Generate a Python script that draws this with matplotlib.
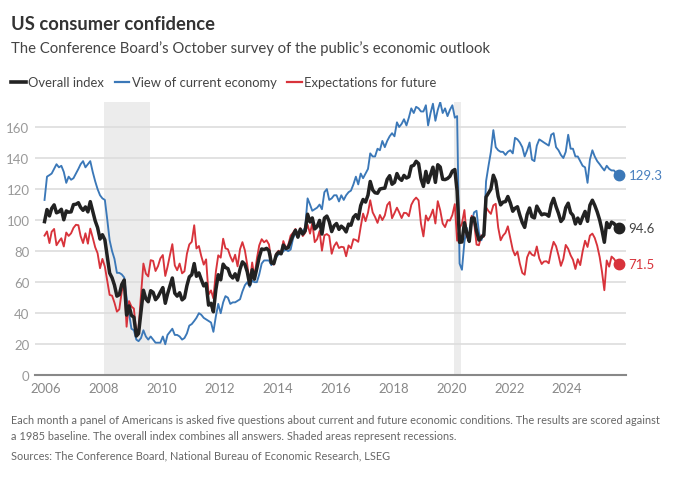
import pandas as pd
import matplotlib
matplotlib.use("Agg")
import matplotlib.pyplot as plt
import matplotlib.dates as mdates
from matplotlib.lines import Line2D

plt.rcParams['font.family'] = ['Lato', 'DejaVu Sans']

# Monthly readings, Dec 2005 - Oct 2025
months = pd.date_range("2005-12-01", "2025-10-01", freq="MS")

overall = [
    99.0,
    106.8, 102.7, 107.5, 109.8, 104.7, 105.4, 107.0, 100.2, 105.9, 105.1, 105.3, 110.0,
    110.2, 111.2, 108.2, 106.3, 108.5, 105.3, 111.9, 105.6, 99.5, 95.2, 87.8, 90.6,
    87.3, 76.4, 65.9, 62.8, 58.1, 51.0, 51.9, 58.5, 61.4, 38.8, 44.7, 38.6,
    37.4, 25.3, 26.9, 40.8, 54.8, 49.3, 47.4, 54.5, 53.4, 48.7, 50.6, 53.6,
    56.5, 46.4, 52.3, 57.7, 62.7, 52.9, 51.0, 53.2, 48.6, 49.9, 57.8, 63.4,
    64.8, 72.0, 63.8, 66.0, 61.7, 57.6, 59.2, 45.2, 46.4, 40.9, 55.2, 64.8,
    61.5, 71.6, 69.5, 68.7, 64.4, 62.7, 65.4, 61.3, 68.4, 73.1, 71.5, 66.7,
    58.4, 68.0, 61.9, 69.0, 76.2, 81.4, 81.0, 81.8, 80.2, 72.4, 72.0, 77.5,
    79.4, 78.3, 83.9, 81.7, 82.2, 86.4, 90.3, 93.4, 89.0, 94.1, 91.0, 93.1,
    103.8, 98.8, 101.4, 94.3, 95.8, 99.8, 91.0, 101.3, 102.6, 99.1, 92.6, 96.3,
    97.8, 94.0, 96.1, 94.7, 92.4, 97.4, 96.7, 101.8, 103.5, 100.8, 109.4, 113.3,
    111.6, 116.1, 124.9, 119.4, 117.6, 117.3, 120.0, 120.4, 120.6, 126.2, 128.6, 123.1,
    124.3, 130.0, 127.0, 125.6, 128.8, 127.1, 127.9, 134.7, 135.3, 137.9, 136.4, 126.6,
    121.7, 131.4, 124.2, 129.2, 134.1, 124.3, 135.7, 134.2, 126.3, 126.1, 126.8, 128.2,
    131.6, 132.6, 118.8, 85.7, 85.9, 98.3, 91.7, 86.3, 101.3, 101.4, 92.9, 87.1,
    88.9, 90.4, 114.9, 117.5, 120.0, 128.9, 125.1, 115.2, 109.8, 111.6, 111.9, 115.2,
    111.1, 105.7, 107.6, 108.6, 103.2, 98.4, 95.3, 103.6, 107.8, 102.2, 101.4, 109.0,
    106.0, 103.4, 104.0, 103.7, 102.5, 110.1, 114.0, 108.7, 104.3, 99.1, 101.0, 108.0,
    110.9, 104.8, 103.1, 97.5, 101.3, 97.8, 101.9, 105.6, 99.2, 109.6, 112.8, 109.5,
    105.3, 100.1, 93.9, 85.7, 98.4, 95.2, 98.7, 97.8, 95.6, 94.6,
]

current = [
    113,
    128, 129, 130, 133, 136, 134, 135, 131, 124, 128, 126, 127,
    130, 133, 136, 138, 134, 136, 138, 131, 125, 120, 116, 114,
    113, 100, 87, 80, 75, 66, 66, 65, 63, 50, 40, 30,
    29, 23, 22, 24, 29, 25, 23, 25, 23, 21, 21, 21,
    25, 20, 26, 28, 30, 26, 26, 25, 23, 24, 27, 32,
    33, 35, 37, 40, 39, 37, 36, 35, 34, 28, 38, 46,
    40, 47, 51, 50, 46, 47, 47, 48, 49, 54, 58, 60,
    57, 61, 60, 60, 65, 72, 74, 74, 74, 71, 73, 76,
    78, 78, 80, 81, 80, 81, 88, 92, 89, 93, 93, 95,
    114, 110, 106, 107, 108, 110, 107, 118, 120, 113, 114, 116,
    116, 112, 116, 113, 116, 118, 119, 123, 128, 123, 130, 127,
    130, 133, 143, 141, 141, 146, 145, 151, 147, 151, 154, 156,
    154, 163, 160, 162, 165, 161, 166, 172, 169, 173, 172, 170,
    170, 174, 161, 169, 175, 164, 171, 176, 169, 172, 167, 171,
    174, 166, 167, 72, 68, 86, 95, 86, 99, 105, 106, 92,
    87, 92, 125, 135, 144, 158, 147, 145, 144, 144, 142, 144,
    145, 143, 153, 152, 150, 147, 141, 145, 150, 139, 138, 148,
    152, 151, 150, 149, 148, 155, 156, 147, 145, 142, 140, 144,
    155, 146, 146, 141, 141, 138, 135, 134, 124, 139, 145, 141,
    138, 136, 134, 132, 135, 133, 132, 132, 130, 129.3,
]

expectations = [
    90.0,
    92.7, 85.2, 92.5, 94.3, 83.8, 86.3, 88.3, 83.0, 92.0, 89.8, 91.5, 95.0,
    97.0, 96.7, 89.7, 85.2, 91.5, 84.8, 94.5, 88.7, 82.5, 78.7, 69.0, 75.0,
    70.0, 60.7, 51.8, 51.3, 46.8, 41.0, 42.5, 54.0, 60.3, 31.3, 47.8, 44.3,
    43.0, 26.8, 30.2, 52.0, 72.0, 65.5, 63.7, 74.2, 73.7, 67.2, 70.3, 75.3,
    77.5, 64.0, 69.8, 77.5, 84.5, 70.8, 67.7, 72.0, 65.7, 67.0, 78.3, 84.3,
    86.0, 96.7, 81.7, 83.3, 76.8, 71.3, 74.7, 52.0, 54.7, 49.5, 66.7, 77.3,
    75.8, 88.0, 81.8, 81.2, 76.7, 73.2, 77.7, 70.2, 81.3, 85.8, 80.5, 71.2,
    59.3, 72.7, 63.2, 75.0, 83.7, 87.7, 85.7, 87.0, 84.3, 73.3, 71.3, 78.5,
    80.3, 78.5, 86.5, 82.2, 83.7, 90.0, 91.8, 94.3, 89.0, 94.8, 89.7, 91.8,
    97.0, 91.3, 98.3, 85.8, 87.7, 93.0, 80.3, 90.2, 91.0, 89.8, 78.3, 83.2,
    85.7, 82.0, 82.8, 82.5, 76.7, 83.7, 81.8, 87.7, 87.2, 86.0, 95.7, 104.2,
    99.3, 104.8, 112.8, 105.0, 102.0, 98.2, 103.3, 100.0, 103.0, 109.7, 111.7, 101.2,
    104.5, 108.0, 105.0, 101.3, 104.7, 104.5, 102.5, 109.8, 112.8, 114.5, 112.7, 97.7,
    89.5, 103.0, 99.7, 102.7, 106.8, 97.8, 112.2, 106.3, 97.8, 95.5, 100.0, 99.7,
    103.3, 110.3, 86.7, 94.8, 97.8, 106.5, 89.5, 86.5, 102.8, 99.0, 84.2, 83.8,
    90.2, 89.3, 108.2, 105.8, 104.0, 109.5, 110.5, 95.3, 87.0, 90.0, 91.8, 96.0,
    88.5, 80.8, 77.3, 79.7, 72.0, 66.0, 64.8, 76.0, 79.7, 77.7, 77.0, 83.0,
    75.3, 71.7, 73.3, 73.5, 72.2, 80.2, 86.0, 83.2, 77.2, 70.5, 75.0, 84.0,
    81.5, 77.3, 74.5, 68.5, 74.8, 71.0, 79.8, 86.7, 82.7, 90.0, 91.3, 88.5,
    83.5, 76.2, 67.2, 54.8, 74.0, 70.0, 76.5, 75.0, 72.7, 71.5,
]

recessions = [("2008-01-01", "2009-07-31"), ("2020-02-01", "2020-05-01")]
year_ticks = pd.date_range("2006-01-01", "2024-01-01", freq="2YS")

BLACK = "#222222"
BLUE = "#3b78b8"
RED = "#d8333b"
GRID = "#dddddd"
SHADE = "#ececec"

fig = plt.figure(figsize=(6.8, 4.81), dpi=100)
ax = fig.add_axes([0.0515, 0.2177, 0.8686, 0.5688])

# plot points in the middle of each month
x = months + pd.Timedelta(days=14)

for start, end in recessions:
    ax.axvspan(pd.Timestamp(start), pd.Timestamp(end), color=SHADE, lw=0, zorder=0)

ax.plot(x, current, color=BLUE, lw=1.35, zorder=3, solid_joinstyle="round")
ax.plot(x, expectations, color=RED, lw=1.35, zorder=3, solid_joinstyle="round")
ax.plot(x, overall, color=BLACK, lw=2.5, zorder=4, solid_joinstyle="round")

# end markers and labels
ends = [(current, BLUE, "#4a80bf"), (overall, BLACK, "#444444"), (expectations, RED, RED)]
for series, col, tcol in ends:
    ax.plot(x[-1], series[-1], "o", color=col, ms=7.5, zorder=5, clip_on=False)
    ax.annotate(f"{series[-1]:.1f}", (x[-1], series[-1]), xytext=(7, 0),
                textcoords="offset points", va="center", ha="left",
                fontsize=9.5, color=tcol, annotation_clip=False)

ax.set_ylim(0, 176.3)
ax.set_xlim(pd.Timestamp("2005-08-17"), pd.Timestamp("2026-01-09"))
ax.set_yticks(range(0, 161, 20))
ax.set_xticks(year_ticks)
ax.xaxis.set_major_formatter(mdates.DateFormatter("%Y"))

ax.grid(axis="y", color=GRID, lw=1.2, zorder=1)
ax.set_axisbelow(True)
for s in ["top", "right", "left"]:
    ax.spines[s].set_visible(False)
ax.spines["bottom"].set_color("#888888")
ax.spines["bottom"].set_linewidth(1.5)
ax.spines["bottom"].set_zorder(6)
ax.tick_params(length=0, labelsize=9.5, labelcolor="#999999")
ax.tick_params(axis="x", pad=5, labelcolor="#888888")
ax.tick_params(axis="y", pad=4)

# titles
fig.text(11 / 680, 1 - 24 / 481, "US consumer confidence", fontsize=13.2,
         fontweight="bold", color="#333333", va="center")
fig.text(11 / 680, 1 - 49 / 481,
         "The Conference Board\u2019s October survey of the public\u2019s economic outlook",
         fontsize=10.7, color="#444444", va="center")

# legend
legend_items = [
    (11, 26, 28.5, "Overall index", BLACK, 2.6),
    (115, 129, 131.5, "View of current economy", BLUE, 1.6),
    (287, 301.5, 304, "Expectations for future", RED, 1.6),
]
ly = 1 - 83 / 481
for x0, x1, tx, label, col, lw in legend_items:
    fig.add_artist(Line2D([x0 / 680, x1 / 680], [ly, ly], color=col, lw=lw))
    fig.text(tx / 680, ly, label, fontsize=9.4, color="#444444", va="center")

# footnotes
note_kw = dict(fontsize=7.9, color="#666666", va="center")
fig.text(11 / 680, 1 - 421 / 481,
         "Each month a panel of Americans is asked five questions about current and future "
         "economic conditions. The results are scored against", **note_kw)
fig.text(11 / 680, 1 - 437 / 481,
         "a 1985 baseline. The overall index combines all answers. Shaded areas represent recessions.",
         **note_kw)
fig.text(11 / 680, 1 - 456 / 481,
         "Sources: The Conference Board, National Bureau of Economic Research, LSEG", **note_kw)

fig.savefig("out.png", dpi=100)
